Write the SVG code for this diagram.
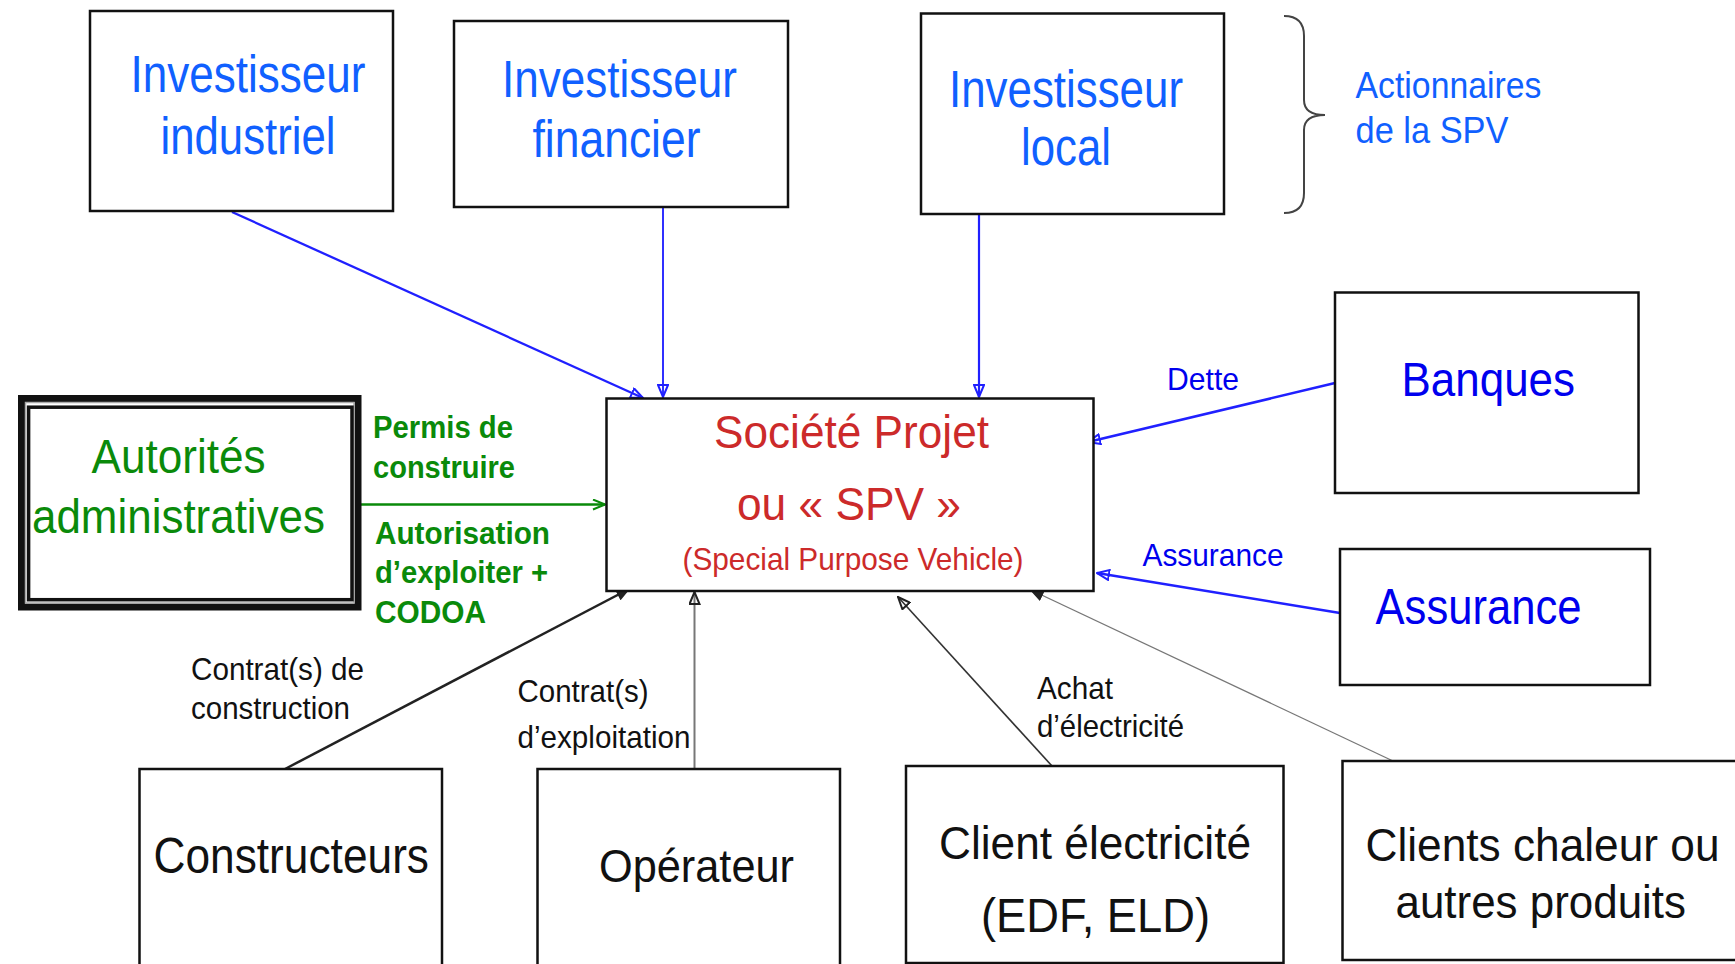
<svg xmlns="http://www.w3.org/2000/svg" width="1735" height="964" viewBox="0 0 1735 964">
<style>
text{font-family:"Liberation Sans",Arial,sans-serif}
.box{fill:#fff;stroke:#111;stroke-width:2.5}
.inv{fill:#1060ff;font-size:51px}
.blu{fill:#0000ee}
.grn{fill:#0a8a0a}
.red{fill:#cc2a2a}
.blk{fill:#111}
.lbl{font-size:32px}
</style>
<defs>
<marker id="ab" viewBox="0 0 14 12" refX="13" refY="6" markerWidth="14" markerHeight="12" orient="auto" markerUnits="userSpaceOnUse"><path d="M1,1 L13,6 L1,11 Z" fill="none" stroke="#2020ff" stroke-width="2"/></marker>
<marker id="ag" viewBox="0 0 14 12" refX="13" refY="6" markerWidth="14" markerHeight="12" orient="auto" markerUnits="userSpaceOnUse"><path d="M1,1 L13,6 L1,11" fill="none" stroke="#0a8a0a" stroke-width="2"/></marker>
<marker id="ak" viewBox="0 0 14 12" refX="13" refY="6" markerWidth="14" markerHeight="12" orient="auto" markerUnits="userSpaceOnUse"><path d="M1,1 L13,6 L1,11 Z" fill="#222" stroke="#222" stroke-width="1.5"/></marker>
<marker id="ao" viewBox="0 0 14 12" refX="13" refY="6" markerWidth="14" markerHeight="12" orient="auto" markerUnits="userSpaceOnUse"><path d="M1,1 L13,6 L1,11 Z" fill="none" stroke="#222" stroke-width="2"/></marker>
</defs>
<rect width="1735" height="964" fill="#fff"/>

<g id="connectors" fill="none">
<line x1="232" y1="212" x2="643" y2="398" stroke="#2020ff" stroke-width="2.3" marker-end="url(#ab)"/>
<line x1="663" y1="207" x2="663" y2="397" stroke="#3030ff" stroke-width="2" marker-end="url(#ab)"/>
<line x1="979" y1="214" x2="979" y2="397" stroke="#2020ff" stroke-width="2.2" marker-end="url(#ab)"/>
<line x1="1335" y1="383" x2="1088" y2="442" stroke="#2020ff" stroke-width="2.6" marker-end="url(#ab)"/>
<line x1="1340" y1="613" x2="1097" y2="573" stroke="#2020ff" stroke-width="2.6" marker-end="url(#ab)"/>
<line x1="358" y1="504.5" x2="605" y2="504.5" stroke="#0a8a0a" stroke-width="2.5" marker-end="url(#ag)"/>
<line x1="285" y1="769" x2="629" y2="589" stroke="#222" stroke-width="2.5" marker-end="url(#ak)"/>
<line x1="694.5" y1="769" x2="694.5" y2="592" stroke="#777" stroke-width="2" marker-end="url(#ao)"/>
<line x1="1052" y1="766" x2="898" y2="597" stroke="#333" stroke-width="1.6" marker-end="url(#ao)"/>
<line x1="1393" y1="761" x2="1031" y2="590" stroke="#777" stroke-width="1.3" marker-end="url(#ak)"/>
<path d="M1284,16 Q1304,16 1304,36 L1304,100 Q1304,115 1325,115 Q1304,115 1304,130 L1304,193 Q1304,213 1284,213" stroke="#444" stroke-width="2"/>
</g>

<g id="n-industriel">
<rect class="box" x="90" y="11" width="303" height="200"/>
<text class="inv" x="130.5" y="92" textLength="235" lengthAdjust="spacingAndGlyphs">Investisseur</text>
<text class="inv" x="160.5" y="154" textLength="175" lengthAdjust="spacingAndGlyphs">industriel</text>
</g>
<g id="n-financier">
<rect class="box" x="454" y="21" width="334" height="186"/>
<text class="inv" x="502" y="97" textLength="235" lengthAdjust="spacingAndGlyphs">Investisseur</text>
<text class="inv" x="532.5" y="157" textLength="168" lengthAdjust="spacingAndGlyphs">financier</text>
</g>
<g id="n-local">
<rect class="box" x="921" y="13.5" width="303" height="200.5"/>
<text class="inv" x="949" y="107" textLength="234" lengthAdjust="spacingAndGlyphs">Investisseur</text>
<text class="inv" x="1021" y="165" textLength="90" lengthAdjust="spacingAndGlyphs">local</text>
</g>
<g id="n-actionnaires">
<text class="inv" style="font-size:37px" x="1355.5" y="98" textLength="186" lengthAdjust="spacingAndGlyphs">Actionnaires</text>
<text class="inv" style="font-size:37px" x="1355.5" y="143" textLength="153" lengthAdjust="spacingAndGlyphs">de la SPV</text>
</g>
<g id="n-autorites">
<rect x="21.5" y="398.5" width="336.5" height="208.5" fill="#fff" stroke="#111" stroke-width="7"/>
<rect x="25.5" y="402.5" width="328.5" height="200.5" fill="none" stroke="#aaa" stroke-width="1.5"/>
<rect x="28.6" y="407.2" width="323.4" height="192.5" fill="none" stroke="#111" stroke-width="3.5"/>
<text class="grn" style="font-size:48px" x="91.5" y="472.5" textLength="174" lengthAdjust="spacingAndGlyphs">Autorités</text>
<text class="grn" style="font-size:48px" x="32" y="533" textLength="293" lengthAdjust="spacingAndGlyphs">administratives</text>
</g>
<g id="l-permis" font-weight="bold">
<text class="grn lbl" x="373" y="438" textLength="140" lengthAdjust="spacingAndGlyphs">Permis de</text>
<text class="grn lbl" x="373" y="478" textLength="142" lengthAdjust="spacingAndGlyphs">construire</text>
<text class="grn lbl" x="375" y="544" textLength="175" lengthAdjust="spacingAndGlyphs">Autorisation</text>
<text class="grn lbl" x="375" y="583" textLength="173" lengthAdjust="spacingAndGlyphs">d’exploiter +</text>
<text class="grn lbl" x="375" y="623" textLength="111" lengthAdjust="spacingAndGlyphs">CODOA</text>
</g>
<g id="n-spv">
<rect class="box" x="606.5" y="398.5" width="487" height="192.5"/>
<text class="red" style="font-size:46px" x="714" y="448" textLength="275" lengthAdjust="spacingAndGlyphs">Société Projet</text>
<text class="red" style="font-size:46px" x="737" y="520" textLength="224" lengthAdjust="spacingAndGlyphs">ou « SPV »</text>
<text class="red lbl" x="682.5" y="570" textLength="341" lengthAdjust="spacingAndGlyphs">(Special Purpose Vehicle)</text>
</g>
<g id="n-banques">
<rect class="box" x="1335" y="292.5" width="303.5" height="200.5"/>
<text class="blu" style="font-size:49px" x="1401.5" y="396" textLength="173.5" lengthAdjust="spacingAndGlyphs">Banques</text>
</g>
<text class="blu lbl" x="1167" y="390" textLength="72" lengthAdjust="spacingAndGlyphs">Dette</text>
<g id="n-assurance">
<rect class="box" x="1340" y="549" width="310" height="136"/>
<text class="blu" style="font-size:50px" x="1375.5" y="624" textLength="206" lengthAdjust="spacingAndGlyphs">Assurance</text>
</g>
<text class="blu lbl" x="1142.5" y="566" textLength="141" lengthAdjust="spacingAndGlyphs">Assurance</text>
<g id="n-constructeurs">
<rect class="box" x="139.5" y="769" width="302.5" height="220"/>
<text class="blk" style="font-size:50px" x="153.5" y="873" textLength="275.5" lengthAdjust="spacingAndGlyphs">Constructeurs</text>
</g>
<text class="blk lbl" x="191" y="680" textLength="173" lengthAdjust="spacingAndGlyphs">Contrat(s) de</text>
<text class="blk lbl" x="191" y="719" textLength="159" lengthAdjust="spacingAndGlyphs">construction</text>
<g id="n-operateur">
<rect class="box" x="537.5" y="769" width="302.5" height="220"/>
<text class="blk" style="font-size:47px" x="599" y="881.5" textLength="195" lengthAdjust="spacingAndGlyphs">Opérateur</text>
</g>
<text class="blk lbl" x="517.5" y="701.5" textLength="131" lengthAdjust="spacingAndGlyphs">Contrat(s)</text>
<text class="blk lbl" x="517.5" y="748" textLength="173" lengthAdjust="spacingAndGlyphs">d’exploitation</text>
<g id="n-client-elec">
<rect class="box" x="906" y="766" width="377.5" height="197"/>
<text class="blk" style="font-size:47px" x="939" y="859" textLength="312" lengthAdjust="spacingAndGlyphs">Client électricité</text>
<text class="blk" style="font-size:49px" x="981" y="932" textLength="229" lengthAdjust="spacingAndGlyphs">(EDF, ELD)</text>
</g>
<text class="blk lbl" x="1037" y="699" textLength="76" lengthAdjust="spacingAndGlyphs">Achat</text>
<text class="blk lbl" x="1037" y="737" textLength="147" lengthAdjust="spacingAndGlyphs">d’électricité</text>
<g id="n-clients-chaleur">
<rect class="box" x="1342.5" y="761" width="420" height="199"/>
<text class="blk" style="font-size:46px" x="1365.5" y="860.5" textLength="354" lengthAdjust="spacingAndGlyphs">Clients chaleur ou</text>
<text class="blk" style="font-size:46px" x="1395.5" y="918" textLength="290.5" lengthAdjust="spacingAndGlyphs">autres produits</text>
</g>
</svg>
